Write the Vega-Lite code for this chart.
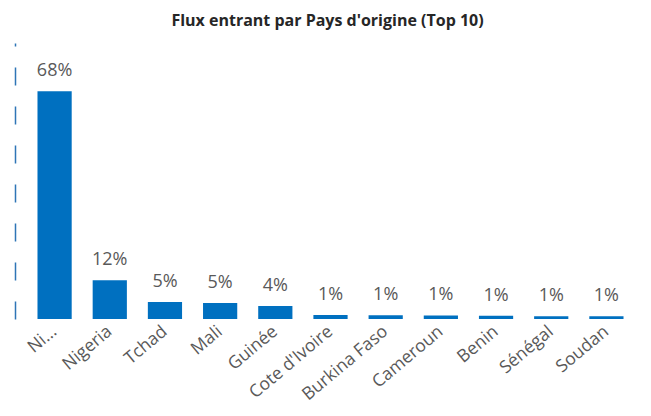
{
  "$schema": "https://vega.github.io/schema/vega-lite/v6.json",
  "width": 607,
  "height": 276,
  "autosize": {"type": "none"},
  "padding": {"left": 27, "top": 43, "right": 17, "bottom": 97},
  "background": "white",
  "title": {
    "text": "Flux entrant par Pays d'origine (Top 10)",
    "font": "Open Sans",
    "fontSize": 16,
    "fontWeight": "bold",
    "color": "#262626",
    "anchor": "middle",
    "offset": 14,
    "dx": -3
  },
  "config": {"view": {"stroke": null}},
  "data": {
    "values": [
      {"pays": "Niger", "valeur": 68, "label": "68%"},
      {"pays": "Nigeria", "valeur": 11.6, "label": "12%"},
      {"pays": "Tchad", "valeur": 5.1, "label": "5%"},
      {"pays": "Mali", "valeur": 4.8, "label": "5%"},
      {"pays": "Guinée", "valeur": 3.9, "label": "4%"},
      {"pays": "Cote d'Ivoire", "valeur": 1.2, "label": "1%"},
      {"pays": "Burkina Faso", "valeur": 1.1, "label": "1%"},
      {"pays": "Cameroun", "valeur": 1.05, "label": "1%"},
      {"pays": "Benin", "valeur": 1.0, "label": "1%"},
      {"pays": "Sénégal", "valeur": 0.85, "label": "1%"},
      {"pays": "Soudan", "valeur": 0.85, "label": "1%"}
    ]
  },
  "encoding": {
    "x": {
      "field": "pays",
      "type": "nominal",
      "sort": null,
      "scale": {"paddingInner": 0.38, "paddingOuter": 0.19},
      "axis": {
        "title": null,
        "domain": false,
        "ticks": false,
        "labelAngle": -40,
        "labelAlign": "right",
        "labelBaseline": "middle",
        "labelPadding": 10,
        "labelFont": "Open Sans",
        "labelFontSize": 17.5,
        "labelColor": "#595959",
        "labelExpr": "datum.value == 'Niger' ? 'Ni...' : datum.value"
      }
    },
    "y": {
      "field": "valeur",
      "type": "quantitative",
      "scale": {"domain": [0, 82.4], "nice": false},
      "axis": {
        "title": null,
        "labels": false,
        "ticks": false,
        "grid": false,
        "domain": true,
        "domainColor": "#2E75B6",
        "domainWidth": 1.5,
        "domainDash": [18, 21],
        "offset": 12
      }
    }
  },
  "layer": [
    {"mark": {"type": "bar", "color": "#0070C0"}},
    {
      "mark": {
        "type": "text",
        "baseline": "alphabetic",
        "dy": -15,
        "font": "Open Sans",
        "fontSize": 18,
        "color": "#595959"
      },
      "encoding": {"text": {"field": "label"}}
    }
  ]
}
